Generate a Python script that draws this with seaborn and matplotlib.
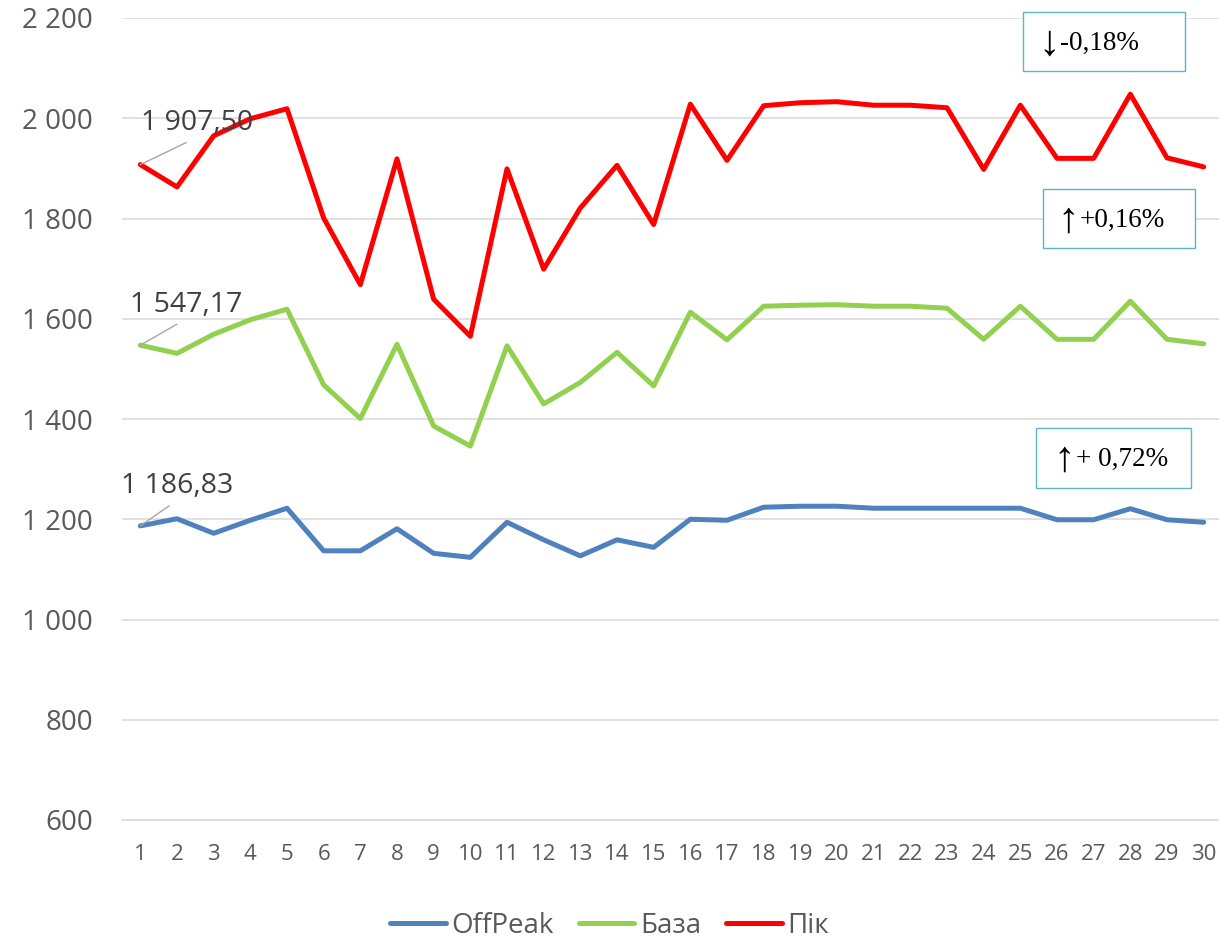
import pandas as pd
import matplotlib.pyplot as plt
import seaborn as sns
from matplotlib.patches import Rectangle
from matplotlib.ticker import FuncFormatter

# ---- data ----
days = list(range(1, 31))
offpeak = [1186.83, 1201, 1172, 1198, 1222, 1137, 1137, 1181, 1132, 1124,
           1194, 1159, 1127, 1159, 1144, 1200, 1198, 1224, 1226, 1226,
           1222, 1222, 1222, 1222, 1222, 1199, 1199, 1221, 1199, 1194]
baza = [1547.17, 1531, 1569, 1598, 1619, 1468, 1401, 1549, 1386, 1346,
        1546, 1430, 1473, 1533, 1466, 1613, 1558, 1625, 1627, 1628,
        1625, 1625, 1621, 1559, 1625, 1559, 1559, 1635, 1559, 1550]
pik = [1907.50, 1863, 1965, 1999, 2019, 1801, 1668, 1919, 1639, 1565,
       1899, 1699, 1821, 1906, 1788, 2028, 1916, 2025, 2031, 2033,
       2026, 2026, 2021, 1898, 2026, 1920, 1920, 2048, 1921, 1903]
series_names = ['OffPeak', 'База', 'Пік']
change_arrows = ['↓', '↑', '↑']
change_texts = ['-0,18%', '+0,16%', '+ 0,72%']

colors = {'OffPeak': '#4f81bd', 'База': '#92d050', 'Пік': '#ff0000'}

df = pd.DataFrame({'День': days * 3,
                   'Ціна': offpeak + baza + pik,
                   'Серія': [s for s in series_names for _ in days]})

sns.set_style('white')
plt.rcParams['font.family'] = ['Open Sans', 'DejaVu Sans']

W, H = 1219, 941
fig = plt.figure(figsize=(W / 100, H / 100), dpi=100)
ax = fig.add_axes([122 / W, 121 / H, 1100 / W, 802 / H])

sns.lineplot(data=df, x='День', y='Ціна', hue='Серія', hue_order=series_names,
             palette=colors, linewidth=3.6, ax=ax, legend=False,
             solid_joinstyle='round', solid_capstyle='round')

ax.set_xlim(0.5, 30.5)
ax.set_ylim(600, 2200)
ax.set_yticks(range(600, 2201, 200))
ax.set_xticks(days)
ax.yaxis.set_major_formatter(FuncFormatter(lambda v, p: f'{int(v):,}'.replace(',', ' ')))
ax.set_xlabel('')
ax.set_ylabel('')
ax.grid(axis='y', color='#d9d9d9', linewidth=1.1)
ax.set_axisbelow(True)
for s in ['top', 'right', 'left']:
    ax.spines[s].set_visible(False)
ax.spines['bottom'].set_color('#d9d9d9')
ax.spines['bottom'].set_linewidth(1.1)
ax.tick_params(axis='y', length=0, pad=21, labelsize=20, labelcolor='#595959')
ax.tick_params(axis='x', length=0, pad=17, labelsize=16, labelcolor='#595959')

# data labels on first points
first_vals = [offpeak[0], baza[0], pik[0]]
offsets = [(26.6, 23.5), (33, 24), (40.7, 24.6)]
for v, off in zip(first_vals, offsets):
    txt = f'{v:,.2f}'.replace(',', ' ').replace('.', ',')
    ax.annotate(txt, xy=(days[0], v), xytext=off, textcoords='offset points',
                ha='center', va='baseline', fontsize=20.5, color='#404040',
                arrowprops=dict(arrowstyle='-', color='#a6a6a6', lw=1,
                                relpos=(0.5, 0), shrinkA=3, shrinkB=0))

# change boxes (pixel layout): box x, y, w, h, arrow centre x, text x, baseline y
boxes = [(1023, 12, 162, 59, 1049, 1060, 50),
         (1043, 189, 152, 59, 1068, 1080, 227),
         (1036, 428, 155, 60, 1064, 1076, 466)]
serif = ['Liberation Serif', 'DejaVu Serif']
for (bx, by, bw, bh, axx, tx, ty), arr, lab in zip(boxes, change_arrows, change_texts):
    fig.patches.append(Rectangle((bx / W, 1 - (by + bh) / H), bw / W, bh / H,
                                 transform=fig.transFigure, fill=True,
                                 facecolor='white', edgecolor='#5fb3cc', lw=1))
    fig.text(axx / W, 1 - (ty + 5) / H, arr, ha='center', va='baseline',
             fontsize=31, family=serif, color='black')
    fig.text(tx / W, 1 - ty / H, lab, ha='left', va='baseline', fontsize=19.5,
             family=serif, color='black')

handles = [plt.Line2D([], [], color=colors[s], lw=3.6, solid_capstyle='round')
           for s in series_names]
fig.legend(handles, series_names, loc='center', bbox_to_anchor=(0.5, 15 / H),
           ncol=3, frameon=False, fontsize=20, labelcolor='#595959',
           handlelength=2.0, handletextpad=0.2, columnspacing=0.9)

fig.savefig('out.png', dpi=100)
